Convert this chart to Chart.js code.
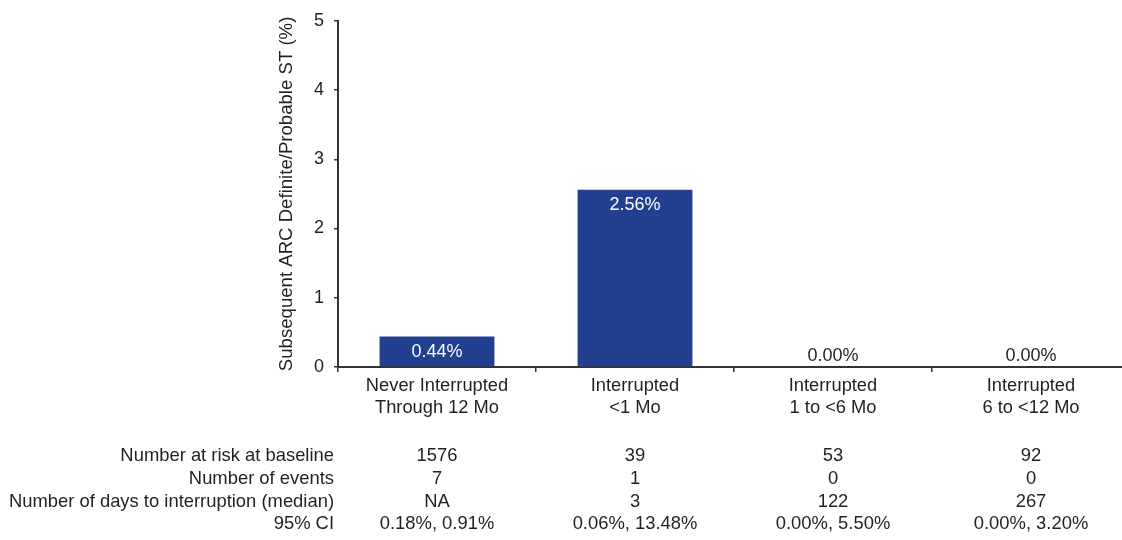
<!DOCTYPE html>
<html>
<head>
<meta charset="utf-8">
<title>Subsequent ARC definite/probable ST by interruption</title>
<script src="https://cdn.jsdelivr.net/npm/chart.js@4/dist/chart.umd.min.js"></script>
<style>
  html, body { margin: 0; padding: 0; background: #ffffff; overflow: hidden; }
  #wrap { width: 1130px; height: 540px; }
</style>
</head>
<body>
<div id="wrap"><canvas id="chart" width="1130" height="540"></canvas></div>
<script>
// Category labels (two lines each)
const categories = [
  ['Never Interrupted', 'Through 12 Mo'],
  ['Interrupted', '<1 Mo'],
  ['Interrupted', '1 to <6 Mo'],
  ['Interrupted', '6 to <12 Mo']
];
// Subsequent ST rate, %
const stRates = [0.44, 2.56, 0.00, 0.00];
const yTicks = [0, 1, 2, 3, 4, 5];

// Table beneath the chart
const rowLabels = [
  'Number at risk at baseline',
  'Number of events',
  'Number of days to interruption (median)',
  '95% CI'
];
const atRisk = ['1576', '39', '53', '92'];
const events = ['7', '1', '0', '0'];
const medianDays = ['NA', '3', '122', '267'];
const ci95 = ['0.18%, 0.91%', '0.06%, 13.48%', '0.00%, 5.50%', '0.00%, 3.20%'];
const tableRows = [atRisk, events, medianDays, ci95];

const FONT = '"Liberation Sans", Arial, Helvetica, sans-serif';
const TEXT = '#231f20';
const AXIS = '#333333';
const BAR = '#233f8f';

// Percentage labels on bars: white inside the bar, dark above zero-height bars
const barLabels = {
  id: 'barLabels',
  afterDatasetsDraw(chart) {
    const ctx = chart.ctx;
    const meta = chart.getDatasetMeta(0);
    ctx.save();
    ctx.font = '18px ' + FONT;
    ctx.textAlign = 'center';
    ctx.textBaseline = 'middle';
    meta.data.forEach((bar, i) => {
      const v = chart.data.datasets[0].data[i];
      const txt = v.toFixed(2) + '%';
      if (v > 0) {
        ctx.fillStyle = '#ffffff';
        ctx.fillText(txt, bar.x, bar.y + 15);
      } else {
        ctx.fillStyle = TEXT;
        ctx.fillText(txt, bar.x, bar.y - 11);
      }
    });
    ctx.restore();
  }
};

// Summary table aligned to the category columns
const summaryTable = {
  id: 'summaryTable',
  afterDraw(chart) {
    const ctx = chart.ctx;
    const xs = chart.scales.x;
    ctx.save();
    ctx.font = '18.4px ' + FONT;
    ctx.fillStyle = TEXT;
    ctx.textBaseline = 'middle';
    const y0 = 456, dy = 22.8;
    rowLabels.forEach((label, r) => {
      const y = y0 + r * dy;
      ctx.textAlign = 'right';
      ctx.fillText(label, 334, y);
      ctx.textAlign = 'center';
      tableRows[r].forEach((val, c) => {
        ctx.fillText(val, xs.getPixelForValue(c), y);
      });
    });
    ctx.restore();
  }
};

new Chart(document.getElementById('chart'), {
  type: 'bar',
  data: {
    labels: categories,
    datasets: [{
      data: stRates,
      backgroundColor: BAR,
      borderWidth: 0,
      barPercentage: 0.58,
      categoryPercentage: 1.0
    }]
  },
  options: {
    responsive: false,
    animation: false,
    layout: { padding: { top: 20, right: 0, bottom: 0, left: 0 } },
    plugins: {
      legend: { display: false },
      tooltip: { enabled: false }
    },
    scales: {
      x: {
        grid: {
          offset: true,
          drawOnChartArea: false,
          drawTicks: true,
          tickLength: 5,
          color: AXIS,
          lineWidth: 1.5
        },
        border: { display: true, color: AXIS, width: 2 },
        ticks: {
          color: TEXT,
          font: { family: FONT, size: 18.3 },
          padding: 3,
          maxRotation: 0,
          autoSkip: false
        },
        afterFit(scale) { scale.height = 540 - 367; }
      },
      y: {
        min: 0,
        max: 5,
        afterBuildTicks(scale) { scale.ticks = yTicks.map(v => ({ value: v })); },
        grid: {
          drawOnChartArea: false,
          drawTicks: true,
          tickLength: 4,
          color: AXIS,
          lineWidth: 1.5
        },
        border: { display: true, color: AXIS, width: 2 },
        ticks: {
          color: TEXT,
          font: { family: FONT, size: 18 },
          padding: 10
        },
        title: {
          display: true,
          text: 'Subsequent ARC Definite/Probable ST (%)',
          color: TEXT,
          font: { family: FONT, size: 18.6 },
          padding: { top: 276, bottom: 0 }
        },
        afterFit(scale) { scale.width = 338; }
      }
    }
  },
  plugins: [barLabels, summaryTable]
});
</script>
</body>
</html>
